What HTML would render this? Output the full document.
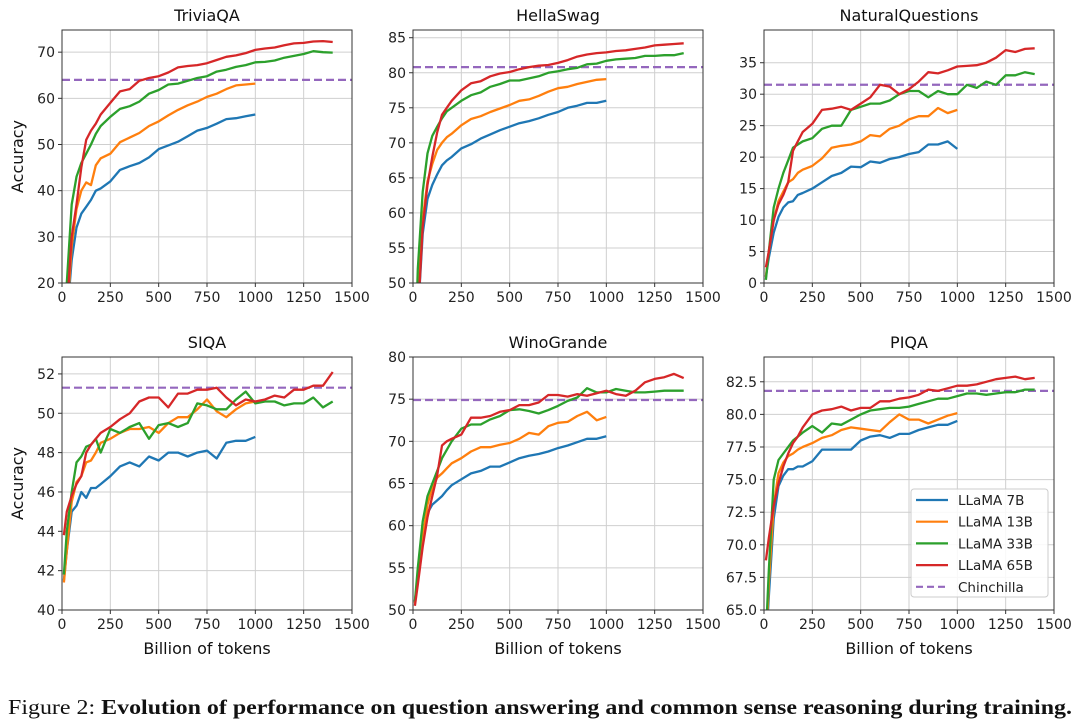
<!DOCTYPE html>
<html><head><meta charset="utf-8"><style>
body{margin:0;background:#fff;}
svg{display:block;font-family:"DejaVu Sans","Liberation Sans",sans-serif;}
</style></head><body>
<svg id="fig" width="1080" height="728" viewBox="0 0 1080 728" xmlns="http://www.w3.org/2000/svg">
<text x="8" y="714" font-family="Liberation Serif, serif" font-size="21" fill="#111" textLength="1064" lengthAdjust="spacingAndGlyphs">Figure 2: <tspan font-weight="bold">Evolution of performance on question answering and common sense reasoning during training.</tspan></text>
</svg>
<script>
const xs = [10,25,50,75,100,125,150,175,200,250,300,350,400,450,500,550,600,650,700,750,800,850,900,950,1000,1050,1100,1150,1200,1250,1300,1350,1400];
const seriesNames = ["LLaMA 7B","LLaMA 13B","LLaMA 33B","LLaMA 65B"];
const panelTitles = ["TriviaQA","HellaSwag","NaturalQuestions","SIQA","WinoGrande","PIQA"];
const xTicks = [0,250,500,750,1000,1250,1500];

const tqa7 = [5,12,25,32,35,36.5,38,40,40.5,42,44.5,45.3,46,47.2,49,49.8,50.6,51.8,53,53.6,54.5,55.5,55.7,56.1,56.5];
const tqa13 = [5,12,28,36,40,41.8,41.2,45.5,47,48,50.5,51.5,52.5,54,55,56.3,57.5,58.5,59.3,60.3,61,62,62.8,63,63.2];
const tqa33 = [8,20,37,43,46,48,50,52.3,54,56,57.7,58.3,59.3,61,61.8,63,63.2,63.8,64.4,64.8,65.8,66.2,66.8,67.2,67.8,67.9,68.2,68.8,69.2,69.6,70.2,70,69.9];
const tqa65 = [5,14,30,37,45,51,53,54.5,56.5,59,61.5,62,63.8,64.4,64.8,65.6,66.7,67,67.2,67.6,68.3,69,69.3,69.8,70.5,70.8,71,71.5,71.9,72,72.3,72.4,72.2];
const tqaChin = 64;

const hs7 = [35,45,57,62,64,65.5,66.8,67.5,68,69.2,69.8,70.6,71.2,71.8,72.3,72.8,73.1,73.5,74,74.4,75,75.3,75.7,75.7,76];
const hs13 = [35,47,59,64.5,67,69,70,70.8,71.3,72.5,73.4,73.8,74.4,74.9,75.4,76,76.2,76.7,77.3,77.8,78,78.4,78.7,79,79.1];
const hs33 = [38,52,63,68.5,71,72.3,73.5,74.5,75,76,76.8,77.2,78,78.4,78.9,78.9,79.2,79.5,80,80.2,80.5,80.7,81.2,81.3,81.7,81.9,82,82.1,82.4,82.4,82.5,82.5,82.8];
const hs65 = [30,45,58,64,68,71.5,74,75,76,77.5,78.5,78.8,79.5,79.9,80.1,80.5,80.8,81,81.1,81.4,81.8,82.3,82.6,82.8,82.9,83.1,83.2,83.4,83.6,83.9,84,84.1,84.2];
const hsChin = 80.8;

const nq7 = [1,4,8,10.5,12,12.8,13,14,14.3,15,16,17,17.5,18.5,18.4,19.3,19.1,19.7,20,20.5,20.8,22,22,22.5,21.3];
const nq13 = [1,5,10,13,14.5,16,16.5,17.5,18,18.6,19.8,21.5,21.8,22,22.5,23.5,23.3,24.5,25,26,26.5,26.5,27.8,27,27.5];
const nq33 = [0.5,5,12,15,17.5,19.5,21.5,22,22.5,23,24.5,25,25,27.5,28,28.5,28.5,29,30,30.5,30.5,29.5,30.5,30,30,31.5,31,32,31.5,33,33,33.5,33.2];
const nq65 = [2.5,5,10,12.5,14,16,21,22.5,24,25.3,27.5,27.7,28,27.5,28.5,29.5,31.5,31.2,30,30.8,32,33.5,33.3,33.8,34.4,34.5,34.6,35,35.8,37,36.7,37.2,37.3];
const nqChin = 31.5;

const si7 = [41.5,43,45,45.3,46,45.7,46.2,46.2,46.4,46.8,47.3,47.5,47.3,47.8,47.6,48,48,47.8,48,48.1,47.7,48.5,48.6,48.6,48.8];
const si13 = [41.4,43,45.5,46.5,46.8,47.5,47.6,48,48.5,48.7,49,49.2,49.2,49.3,49,49.5,49.8,49.8,50.2,50.7,50.1,49.8,50.2,50.5,50.6];
const si33 = [41.8,44,46,47.5,47.8,48.3,48.4,48.7,48,49.2,49,49.3,49.5,48.7,49.4,49.5,49.3,49.5,50.5,50.4,50.2,50.2,50.7,51.1,50.5,50.6,50.6,50.4,50.5,50.5,50.8,50.3,50.6];
const si65 = [43.8,45,45.8,46.4,46.8,48,48.4,48.7,49,49.3,49.7,50,50.6,50.8,50.8,50.3,51,51,51.2,51.2,51.3,50.8,50.4,50.7,50.6,50.7,50.9,50.8,51.2,51.2,51.4,51.4,52.1];
const siChin = 51.3;

const wg7 = [51,54,58,61.5,62.5,63,63.5,64.2,64.8,65.5,66.2,66.5,67,67,67.5,68,68.3,68.5,68.8,69.2,69.5,69.9,70.3,70.3,70.6];
const wg13 = [50.8,54,58.5,62.5,64.5,65.7,66.2,66.8,67.4,68,68.8,69.3,69.3,69.6,69.8,70.3,71,70.8,71.8,72.2,72.3,73,73.5,72.5,72.9];
const wg33 = [51,55,60.5,63.5,65,66.5,68,69,70,71.5,72,72,72.6,73,73.7,73.8,73.6,73.3,73.7,74.2,74.8,75.2,76.3,75.8,75.8,76.2,76,75.8,75.8,75.9,76,76,76];
const wg65 = [50.5,53,57.5,61,63.5,66,69.5,70,70.3,70.8,72.8,72.8,73,73.5,73.7,74.3,74.3,74.6,75.5,75.5,75.3,75.6,75.4,75.7,76,75.6,75.4,76,77,77.4,77.6,78,77.5];
const wgChin = 74.9;

const pi7 = [62,66,72,74.5,75.3,75.8,75.8,76,76,76.4,77.3,77.3,77.3,77.3,78,78.3,78.4,78.2,78.5,78.5,78.8,79,79.2,79.2,79.5];
const pi13 = [62,67,73,75.5,76.3,76.8,77,77.3,77.5,77.8,78.2,78.4,78.8,79,78.9,78.8,78.7,79.4,80,79.6,79.6,79.3,79.6,79.9,80.1];
const pi33 = [63,68,75,76.5,77,77.5,78,78.3,78.6,79.1,78.6,79.3,79.2,79.6,80,80.3,80.4,80.5,80.5,80.6,80.8,81,81.2,81.2,81.4,81.6,81.6,81.5,81.6,81.7,81.7,81.9,81.9];
const pi65 = [68.8,70.5,73,74.7,76,77,77.8,78.3,79,80,80.3,80.4,80.6,80.3,80.5,80.5,81,81,81.2,81.3,81.5,81.9,81.8,82,82.2,82.2,82.3,82.5,82.7,82.8,82.9,82.7,82.8];
const piChin = 81.8;

const yTicksTqa = [20,30,40,50,60,70];
const yTicksHs = [50,55,60,65,70,75,80,85];
const yTicksNq = [0,5,10,15,20,25,30,35];
const yTicksSi = [40,42,44,46,48,50,52];
const yTicksWg = [50,55,60,65,70,75,80];
const yTicksPi = [65,67.5,70,72.5,75,77.5,80,82.5];

const NS="http://www.w3.org/2000/svg";
const svg=document.getElementById('fig');
const colors=["#1f77b4","#ff7f0e","#2ca02c","#d62728"];
function mk(tag,attrs,parent){const e=document.createElementNS(NS,tag);for(const k in attrs)e.setAttribute(k,attrs[k]);(parent||svg).appendChild(e);return e;}

const panels=[
 {s:[tqa7,tqa13,tqa33,tqa65],c:tqaChin,yt:yTicksTqa,ymin:20,ymax:74.8,L:62,T:30,B:283,dec:0,ylab:true,xlab:false},
 {s:[hs7,hs13,hs33,hs65],c:hsChin,yt:yTicksHs,ymin:50,ymax:86.1,L:413,T:30,B:283,dec:0},
 {s:[nq7,nq13,nq33,nq65],c:nqChin,yt:yTicksNq,ymin:0,ymax:40.2,L:764,T:30,B:283,dec:0},
 {s:[si7,si13,si33,si65],c:siChin,yt:yTicksSi,ymin:40,ymax:52.86,L:62,T:357,B:610,dec:0,ylab:true,xlab:true},
 {s:[wg7,wg13,wg33,wg65],c:wgChin,yt:yTicksWg,ymin:50,ymax:80,L:413,T:357,B:610,dec:0,xlab:true},
 {s:[pi7,pi13,pi33,pi65],c:piChin,yt:yTicksPi,ymin:65,ymax:84.4,L:764,T:357,B:610,dec:1,xlab:true,legend:true}
];
const W=290;
panels.forEach((p,pi)=>{
  const g=mk('g',{});
  
  
  const X=v=>p.L+v/1500*W;
  const Y=v=>p.B-(v-p.ymin)/(p.ymax-p.ymin)*(p.B-p.T);
  const cp=mk('clipPath',{id:'cp'+pi},g);
  mk('rect',{x:p.L,y:p.T,width:W,height:p.B-p.T},cp);
  xTicks.forEach(t=>{
    const l=mk('line',{x1:X(t),x2:X(t),y1:p.T,y2:p.B,stroke:'#cfcfcf','stroke-width':1},g);
    
    
    mk('line',{x1:X(t),x2:X(t),y1:p.B,y2:p.B+4,stroke:'#333','stroke-width':1},g);
    const tx=mk('text',{x:X(t),y:p.B+19,'text-anchor':'middle','font-size':14,fill:'#222'},g);
    tx.textContent=t;
    
    
  });
  p.yt.forEach(t=>{
    const l=mk('line',{x1:p.L,x2:p.L+W,y1:Y(t),y2:Y(t),stroke:'#cfcfcf','stroke-width':1},g);
    
    
    mk('line',{x1:p.L-4,x2:p.L,y1:Y(t),y2:Y(t),stroke:'#333','stroke-width':1},g);
    const tx=mk('text',{x:p.L-7,y:Y(t)+5,'text-anchor':'end','font-size':14,fill:'#222'},g);
    tx.textContent=p.dec?t.toFixed(1):t;
    
    
  });
  const ch=mk('line',{x1:p.L,x2:p.L+W,y1:Y(p.c),y2:Y(p.c),stroke:'#9467bd','stroke-width':2.2,'stroke-dasharray':'8,4'},g);
  
  
  p.s.forEach((arr,si)=>{
    const d=arr.map((v,i)=>(i?'L':'M')+X(xs[i]).toFixed(1)+','+Y(v).toFixed(1)).join('');
    const pa=mk('path',{d:d,fill:'none',stroke:colors[si],'stroke-width':2.3,'stroke-linejoin':'round','clip-path':'url(#cp'+pi+')'},g);
    
    
  });
  mk('rect',{x:p.L,y:p.T,width:W,height:p.B-p.T,fill:'none',stroke:'#333','stroke-width':1},g);
  const tt=mk('text',{x:p.L+W/2,y:p.T-9,'text-anchor':'middle','font-size':16,fill:'#111'},g);
  tt.textContent=panelTitles[pi];
  
  
  if(p.ylab){
    const yl=mk('text',{x:0,y:0,'text-anchor':'middle','font-size':16,fill:'#111',transform:'translate(23,'+((p.T+p.B)/2)+') rotate(-90)'},g);
    yl.textContent='Accuracy';
    
    
  }
  if(p.xlab){
    const xl=mk('text',{x:p.L+W/2,y:p.B+44,'text-anchor':'middle','font-size':16,fill:'#111'},g);
    xl.textContent='Billion of tokens';
    
    
  }
  if(p.legend){
    const lg=mk('g',{},g);
    
    
    mk('rect',{x:911,y:489,width:137,height:108,rx:3,fill:'#fff','fill-opacity':0.85,stroke:'#ccc'},lg);
    const names=seriesNames.concat(['Chinchilla']);
    const cols=colors.concat(['#9467bd']);
    names.forEach((n,i)=>{
      const yy=500+i*21.7;
      const e=mk('g',{},lg);
      
      
      const a={x1:916,x2:948,y1:yy,y2:yy,stroke:cols[i],'stroke-width':2.2};
      if(i===4)a['stroke-dasharray']='7,4';
      mk('line',a,e);
      const t=mk('text',{x:958,y:yy+5,'font-size':13.5,fill:'#222'},e);
      t.textContent=n;
    });
  }
});
</script>
</body></html>
